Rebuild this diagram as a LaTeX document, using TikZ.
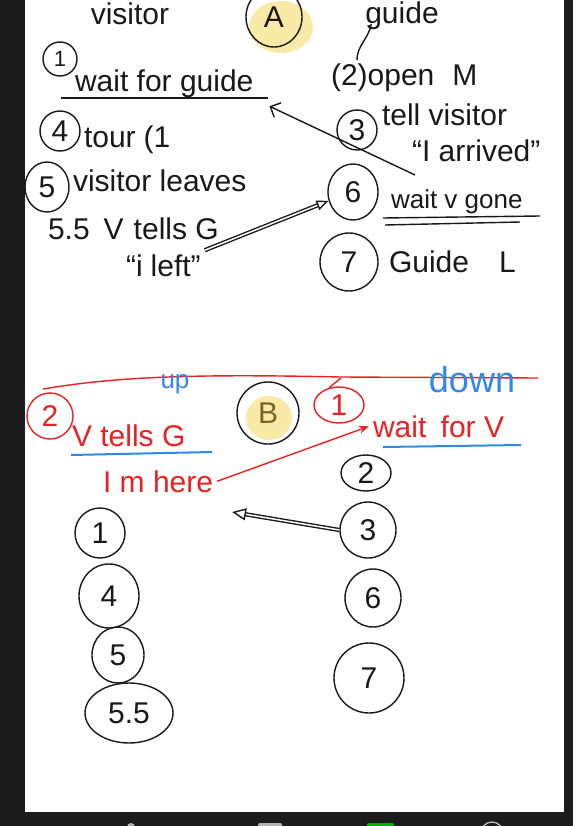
\documentclass[tikz,border=0pt]{standalone}
\usepackage{fontspec}
\setmainfont{Liberation Sans}
\usetikzlibrary{arrows.meta,shapes.geometric}
\definecolor{pen}{RGB}{25,25,25}
\definecolor{redpen}{RGB}{236,32,32}
\definecolor{bluepen}{RGB}{48,136,232}
\definecolor{hilite}{RGB}{250,234,168}
\definecolor{frame}{RGB}{28,28,28}

\begin{document}
\begin{tikzpicture}[x=1pt,y=-1pt,line width=1.4pt,draw=pen,text=pen,font=\fontsize{30}{32}\selectfont,
  num/.style={ellipse,draw,inner sep=0pt,minimum size=40},
  redink/.style={draw=redpen,text=redpen},
  blueink/.style={text=bluepen}]
\tikzstyle{small} = [font=\fontsize{22}{24}\selectfont]
\tikzstyle{mid} = [font=\fontsize{26}{28}\selectfont]

% screen
\fill[frame] (0,0) rectangle (573,826);
\fill[white] (25,0) rectangle (564,812);
\useasboundingbox (0,0) rectangle (573,826);

% A
\fill[hilite] (281,27) ellipse (32 and 26);
\node[anchor=base] (visitor) at (130,25) {visitor};
\node[anchor=base] (guide) at (402,24) {guide};
\node[num,minimum width=56,minimum height=60] (A) at (274,17) {A};

\node[num,small,minimum size=34] (n1) at (60,59) {1};
\node[anchor=base west] (waitguide) at (71,92) {wait for guide};
\draw (61,98) -- (268,98);
\node[anchor=base west] (openM) at (327,86) {(2)open\hspace{18pt}M};
\draw ([xshift=10pt]guide.base west) to[out=-100,in=90] ([xshift=30pt]openM.north west);

\node[num,minimum size=40] (n3) at (357,130) {3};
\node[anchor=base west] (tell) at (378,126) {tell visitor};
\node[anchor=base west] (arrived) at (408,162) {``I arrived''};
\coordinate (back3) at (415,175);
\draw[-{Straight Barb[length=8pt]}] (back3) -- ([shift={(12,4)}]waitguide.south east);

\node[num,minimum size=40] (n4) at (60,131) {4};
\node[anchor=base west] (tour) at (80,148) {tour\hspace{8pt}(1};
\node[num,minimum width=44,minimum height=50] (n5) at (47,187) {5};
\node[anchor=base west] (leaves) at (69,192) {visitor leaves};
\node[anchor=base west] (vtellsg) at (44,240) {5.5\hspace{14pt}V\hspace{10pt}tells G};
\node[anchor=base west] (ileft) at (122,276) {``i\hspace{8pt}left''};

\node[num,minimum width=50,minimum height=56] (n6) at (353,192) {6};
\node[anchor=base west,mid] (gone) at (387,209) {wait v gone};
\draw (383,218) -- (540,216);
\draw (385,225) -- (520,222);
\draw[-{Triangle[open,length=12pt,width=10pt]},double,double distance=1.5pt] (ileft.north east) -- (n6.200);

\node[num,minimum size=58] (n7) at (349,262) {7};
\node[anchor=base west] (guideL) at (385,272) {Guide\hspace{30pt}L};

% B
\draw[redpen] (43,389) .. controls (120,376) and (200,374) .. (341,377) -- (538,378);
\node[num,redink,minimum size=46] (r2) at (50,416) {2};
\node[anchor=base west,text=redpen] (vtells) at (68,446) {V tells G};
\node[blueink,mid] (up) at (175,384) {up};
\draw[bluepen,line width=2pt] (71,455) -- (212,452);
\fill[hilite] (269,418) ellipse (23 and 22);
\node[num,minimum size=62,text={rgb,255:red,120;green,100;blue,40}] (B) at (268,413) {B};

\node[num,redink,minimum width=50,minimum height=36] (r1) at (339,405) {1};
\draw[redpen] (r1.120) -- (341,378);
\node[blueink,font=\fontsize{36}{38}\selectfont] (down) at (472,380) {down};
\node[anchor=base west,text=redpen] (waitV) at (369,437) {wait\hspace{6pt} for V};
\draw[bluepen,line width=2pt] (383,447) -- (521,445);
\node[anchor=base west,text=redpen] (imhere) at (99,492) {I m here};
\draw[redpen,-{Stealth[length=10pt]}] (imhere.east) -- (waitV.west);

\node[num,minimum width=50,minimum height=36] (b2) at (366,473) {2};
\node[num,minimum size=56] (b3) at (368,530) {3};
\node[num,minimum width=56,minimum height=58] (b6) at (373,598) {6};
\node[num,minimum size=70] (b7) at (369,678) {7};

\node[num,minimum size=50] (a1) at (100,533) {1};
\node[num,minimum width=60,minimum height=64] (a4) at (109,596) {4};
\node[num,minimum width=52,minimum height=56] (a5) at (118,655) {5};
\node[num,minimum width=88,minimum height=60] (a55) at (129,713) {5.5};
\coordinate (tip3) at (232,512);
\draw[-{Triangle[open,length=14pt,width=12pt]},double,double distance=1.5pt] (b3.west) -- (tip3);

% bar
\fill[gray!60] (131,827) circle (4);
\fill[gray!60,rounded corners=2pt] (258,823) rectangle (282,832);
\fill[green!70!black,rounded corners=2pt] (367,823) rectangle (394,832);
\draw[gray!60] (492,833) circle (11);
\end{tikzpicture}
\end{document}
